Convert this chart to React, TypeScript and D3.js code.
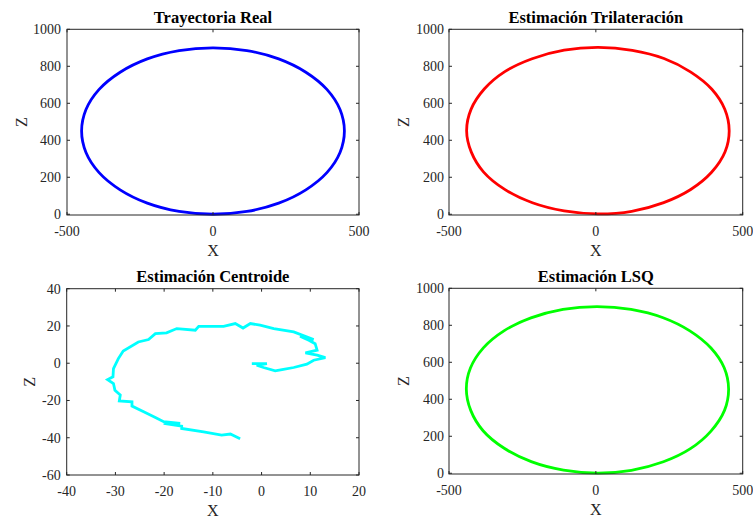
import React from "react";
import * as d3 from "d3";

// ---- Data ----
const realX = [450, 435, 390, 318, 225, 116, 0, -116, -225, -318, -390, -435, -450, -435, -390, -318, -225, -116, 0, 116, 225, 318, 390, 435];
const realZ = [450, 566, 675, 768, 840, 885, 900, 885, 840, 768, 675, 566, 450, 334, 225, 132, 60, 15, 0, 15, 60, 132, 225, 334];

const trilX = [454, 439, 395, 322, 232, 124, 8, -108, -217, -310, -380, -425, -440, -424, -382, -309, -216, -108, 6, 122, 231, 323, 394, 440];
const trilZ = [452, 568, 676, 770, 842, 886, 902, 887, 841, 771, 677, 567, 452, 336, 228, 133, 62, 18, 2, 16, 63, 134, 227, 338];

const lsqX = [452, 437, 392, 320, 229, 120, 4, -112, -221, -313, -383, -427, -441, -426, -384, -312, -220, -110, 6, 121, 230, 322, 392, 438];
const lsqZ = [455, 570, 677, 770, 841, 886, 901, 886, 840, 770, 678, 569, 456, 340, 230, 135, 63, 17, 1, 16, 62, 133, 228, 340];

const centX = [-2.0, 1.1, -1.0, 0.4, 2.8, 4.2, 6.6, 9.3, 10.7, 13.1, 11.4, 9.0, 11.4, 11.0, 9.7, 7.9, 10.7, 6.6, 2.5, -0.3, -2.3, -3.8, -5.4, -7.8, -10.5, -12.9, -13.6, -17.4, -19.5, -21.8, -23.2, -25.3, -28.4, -29.4, -30.4, -30.5, -31.6, -30.4, -30.1, -29.0, -29.2, -26.6, -26.6, -24.2, -21.8, -20.1, -16.7, -20.1, -16.4, -16.4, -11.9, -8.2, -6.4, -4.4];
const centZ = [-0.2, -0.2, -1.1, -2.3, -4.1, -3.4, -2.3, -0.5, 1.6, 3.0, 4.3, 5.5, 7.0, 10.5, 12.3, 14.5, 12.7, 16.8, 18.6, 20.4, 21.3, 18.9, 21.3, 19.8, 19.8, 19.8, 17.7, 18.6, 16.3, 15.9, 12.7, 11.4, 6.6, 2.5, -2.9, -7.3, -8.8, -10.9, -14.5, -17.1, -20.2, -20.7, -23.0, -26.1, -29.1, -31.4, -32.3, -32.3, -33.8, -35.0, -36.8, -38.6, -38.0, -40.5];

const ellTicksX = [-500, 0, 500];
const ellTicksZ = [0, 200, 400, 600, 800, 1000];
const centTicksX = [-40, -30, -20, -10, 0, 10, 20];
const centTicksZ = [-60, -40, -20, 0, 20, 40];

const titles = ["Trayectoria Real", "Estimación Trilateración", "Estimación Centroide", "Estimación LSQ"];

const FONT = "Liberation Serif, Tinos, Times New Roman, Times, DejaVu Serif, serif";
const AXC = "#262626";

type PanelProps = {
  left: number; right: number; top: number; bottom: number;
  xDomain: [number, number]; yDomain: [number, number];
  xTicks: number[]; yTicks: number[];
  xs: number[]; ys: number[]; color: string; closed: boolean;
  title: string; zLabelOffset: number; yLabelGap: number;
};

function Panel(p: PanelProps) {
  const x = d3.scaleLinear().domain(p.xDomain).range([p.left, p.right]);
  const y = d3.scaleLinear().domain(p.yDomain).range([p.bottom, p.top]);
  const pts: [number, number][] = p.xs.map((v, i) => [v, p.ys[i]]);
  const line = d3
    .line<[number, number]>()
    .x((d) => x(d[0]))
    .y((d) => y(d[1]))
    .curve(p.closed ? d3.curveCatmullRomClosed : d3.curveLinear);
  const tl = 3;
  const cx = (p.left + p.right) / 2;
  const cy = (p.top + p.bottom) / 2;
  return (
    <g>
      <path d={line(pts) || ""} fill="none" stroke={p.color} strokeWidth={2.8} strokeLinejoin="miter" strokeMiterlimit={4} />
      <rect x={p.left} y={p.top} width={p.right - p.left} height={p.bottom - p.top} fill="none" stroke={AXC} strokeWidth={1} />
      {p.xTicks.map((t) => (
        <g key={"xt" + t}>
          <line x1={x(t)} x2={x(t)} y1={p.bottom} y2={p.bottom - tl} stroke={AXC} />
          <line x1={x(t)} x2={x(t)} y1={p.top} y2={p.top + tl} stroke={AXC} />
          <text x={x(t)} y={p.bottom + 20.5} textAnchor="middle" style={{ fontFamily: FONT }} fontSize={14} fill={AXC}>
            {t}
          </text>
        </g>
      ))}
      {p.yTicks.map((t) => (
        <g key={"yt" + t}>
          <line x1={p.left} x2={p.left + tl} y1={y(t)} y2={y(t)} stroke={AXC} />
          <line x1={p.right} x2={p.right - tl} y1={y(t)} y2={y(t)} stroke={AXC} />
          <text x={p.left - p.yLabelGap} y={y(t) + 5} textAnchor="end" style={{ fontFamily: FONT }} fontSize={14} fill={AXC}>
            {t}
          </text>
        </g>
      ))}
      <text x={cx} y={p.top - 6.8} textAnchor="middle" style={{ fontFamily: FONT }} fontSize={16.5} fontWeight="bold" fill="#000">
        {p.title}
      </text>
      <text x={cx} y={p.bottom + 41} textAnchor="middle" style={{ fontFamily: FONT }} fontSize={16} fill={AXC}>
        X
      </text>
      <text
        transform={`translate(${p.left - p.zLabelOffset},${cy}) rotate(-90)`}
        textAnchor="middle"
        style={{ fontFamily: FONT }}
        fontSize={16}
        fill={AXC}
      >
        Z
      </text>
    </g>
  );
}

export default function App() {
  return (
    <svg width={753} height={518} style={{ position: "absolute", left: 0, top: 0, background: "#fff" }}>
      <rect width={753} height={518} fill="#fff" />
      <Panel left={67} right={359} top={29.3} bottom={215} xDomain={[-500, 500]} yDomain={[-4, 1000]}
        xTicks={ellTicksX} yTicks={ellTicksZ} xs={realX} ys={realZ} color="#0000ff" closed
        title={titles[0]} zLabelOffset={40} yLabelGap={6} />
      <Panel left={449} right={742.7} top={29.3} bottom={215} xDomain={[-500, 500]} yDomain={[-4, 1000]}
        xTicks={ellTicksX} yTicks={ellTicksZ} xs={trilX} ys={trilZ} color="#ff0000" closed
        title={titles[1]} zLabelOffset={40} yLabelGap={5} />
      <Panel left={66.7} right={359} top={288.7} bottom={475} xDomain={[-40, 20]} yDomain={[-60, 40]}
        xTicks={centTicksX} yTicks={centTicksZ} xs={centX} ys={centZ} color="#00ffff" closed={false}
        title={titles[2]} zLabelOffset={32} yLabelGap={6} />
      <Panel left={449} right={742.7} top={288.3} bottom={474} xDomain={[-500, 500]} yDomain={[-4, 1000]}
        xTicks={ellTicksX} yTicks={ellTicksZ} xs={lsqX} ys={lsqZ} color="#00ff00" closed
        title={titles[3]} zLabelOffset={40} yLabelGap={5} />
    </svg>
  );
}
